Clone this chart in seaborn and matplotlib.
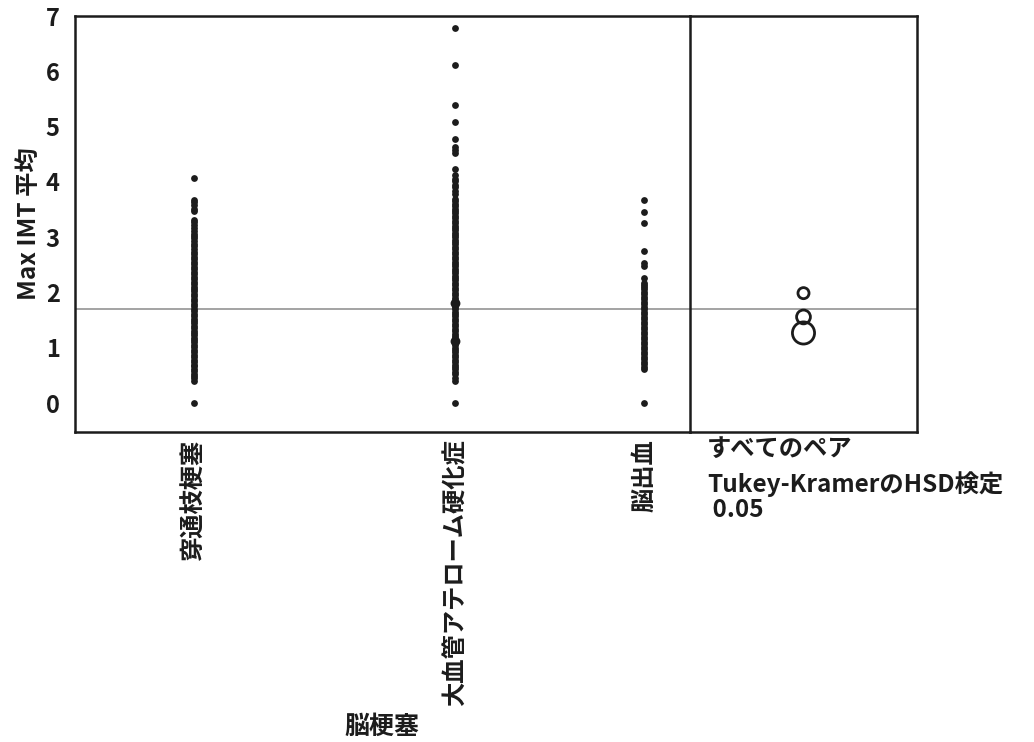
import matplotlib
matplotlib.use("Agg")
import matplotlib.pyplot as plt
import numpy as np
import pandas as pd
import seaborn as sns

sns.set_theme(style="white")
plt.rcParams['font.family'] = ['Noto Sans CJK JP', 'DejaVu Sans']
plt.rcParams['font.weight'] = 'bold'

# --- data -------------------------------------------------------------
categories = ["穿通枝梗塞", "大血管アテローム硬化症", "脳出血"]
group_n = [258, 311, 100]          # group sizes set the width of each column

vals_lacunar = [
    0.00, 0.40, 0.46, 0.50, 0.53, 0.58, 0.62, 0.67, 0.70, 0.75, 0.79, 0.84,
    0.88, 0.92, 0.97, 1.01, 1.05, 1.10, 1.14, 1.18, 1.23, 1.27, 1.31, 1.36,
    1.40, 1.45, 1.49, 1.53, 1.58, 1.62, 1.66, 1.71, 1.75, 1.80, 1.84, 1.89,
    1.93, 1.97, 2.02, 2.06, 2.11, 2.15, 2.20, 2.24, 2.29, 2.33, 2.38, 2.42,
    2.47, 2.51, 2.56, 2.60, 2.65, 2.70, 2.74, 2.79, 2.84, 2.88, 2.93, 2.98,
    3.02, 3.06, 3.12, 3.17, 3.22, 3.27, 3.32, 3.47, 3.52, 3.58, 3.63, 3.68,
    4.08,
]
vals_athero = [
    0.00, 0.40, 0.46, 0.52, 0.57, 0.61, 0.66, 0.70, 0.74, 0.79, 0.83, 0.87,
    0.92, 0.96, 1.00, 1.05, 1.09, 1.13, 1.18, 1.22, 1.26, 1.31, 1.35, 1.39,
    1.44, 1.48, 1.52, 1.57, 1.61, 1.65, 1.70, 1.74, 1.78, 1.83, 1.87, 1.91,
    1.96, 2.00, 2.04, 2.09, 2.13, 2.17, 2.22, 2.26, 2.30, 2.35, 2.39, 2.43,
    2.48, 2.52, 2.56, 2.61, 2.65, 2.69, 2.74, 2.78, 2.82, 2.87, 2.91, 2.95,
    3.00, 3.04, 3.08, 3.13, 3.17, 3.21, 3.26, 3.30, 3.34, 3.39, 3.43, 3.47,
    3.52, 3.56, 3.60, 3.65, 3.70, 3.79, 3.84, 3.90, 3.95, 4.02, 4.06, 4.13,
    4.24, 4.52, 4.57, 4.63, 4.77, 5.08, 5.39, 6.11, 6.78,
]
athero_clusters = [1.12, 1.81]     # heavily tied values
vals_hemorrhage = [
    0.00, 0.62, 0.66, 0.71, 0.75, 0.80, 0.84, 0.89, 0.93, 0.98, 1.02, 1.07,
    1.11, 1.16, 1.20, 1.25, 1.29, 1.34, 1.38, 1.43, 1.47, 1.52, 1.56, 1.61,
    1.65, 1.70, 1.74, 1.79, 1.83, 1.88, 1.92, 1.97, 2.01, 2.06, 2.10, 2.14,
    2.18, 2.27, 2.48, 2.54, 2.76, 3.26, 3.45, 3.68,
]

group_means = [1.56, 1.99, 1.27]   # comparison-circle centres
circle_radii = [0.125, 0.10, 0.20]  # comparison-circle radii (y units)
grand_mean = 1.70

y_ticks = [0, 1, 2, 3, 4, 5, 6, 7]
y_label = "Max IMT 平均"
x_label = "脳梗塞"
panel_title = "すべてのペア"
test_name = "Tukey-KramerのHSD検定"
alpha_text = " 0.05"

# --- layout -----------------------------------------------------------
W, H = 1034, 742
fig = plt.figure(figsize=(W / 100, H / 100), dpi=100)
left, right_main, right_end, top, bottom = 75, 690, 917, 16, 432
ax2 = fig.add_axes([right_main / W, 1 - bottom / H, (right_end - right_main) / W, (bottom - top) / H])
ax = fig.add_axes([left / W, 1 - bottom / H, (right_main - left) / W, (bottom - top) / H],
                  sharey=ax2)
ax2.set_facecolor("none")
ax.set_facecolor("none")

edges = np.concatenate([[0], np.cumsum(group_n)])
centers = (edges[:-1] + edges[1:]) / 2

all_vals = [vals_lacunar, vals_athero, vals_hemorrhage]
df = pd.DataFrame({
    "pos": np.concatenate([[c] * len(v) for c, v in zip(centers, all_vals)]),
    "val": np.concatenate(all_vals),
})
df_cl = pd.DataFrame({"pos": [centers[1]] * len(athero_clusters), "val": athero_clusters})

ink = "#1c1c1c"
ax.axhline(grand_mean, color="#8a8a8a", lw=1.1, zorder=1)
ax2.axhline(grand_mean, color="#8a8a8a", lw=1.1, zorder=1)

sns.scatterplot(data=df, x="pos", y="val", ax=ax, color=ink, s=24, linewidth=0,
                legend=False, zorder=3)
sns.scatterplot(data=df_cl, x="pos", y="val", ax=ax, color=ink, s=50, linewidth=0,
                legend=False, zorder=3)

ax.set_xlim(edges[0], edges[-1])
ax.set_ylim(-0.52, 7.0)
ax.set_yticks(y_ticks)
ax.set_yticks(np.arange(0.5, 7, 1.0), minor=True)
ax.set_xticks(edges[1:-1])
ax.set_xticklabels([])
ax.set_xticks(centers, minor=True)
ax.set_xticklabels(categories, minor=True, rotation=90, fontsize=17.5,
                   fontweight="bold", color=ink)
ax.tick_params(axis="x", which="major", direction="out", length=10, width=1.5, color=ink)
ax.tick_params(axis="x", which="minor", length=0, pad=5)
ax.tick_params(axis="y", which="major", direction="out", length=8, width=1.5,
               color=ink, labelsize=17, labelcolor=ink, pad=3)
ax.tick_params(axis="y", which="minor", direction="out", length=4, width=1.5, color=ink)
for t in ax.get_yticklabels():
    t.set_fontweight("bold")
ax.set_xlabel("")
ax.set_ylabel(y_label, fontsize=17.5, fontweight="bold", color=ink, labelpad=3)
for s in ax.spines.values():
    s.set_visible(True)
    s.set_color(ink)
    s.set_linewidth(1.8)

# comparison circles
ax2.set_xlim(0, 1)
fig.canvas.draw()
sizes = []
for m, r in zip(group_means, circle_radii):
    p0 = ax2.transData.transform((0.5, m))
    p1 = ax2.transData.transform((0.5, m + r))
    r_pt = (p1[1] - p0[1]) * 72 / fig.dpi
    sizes.append((2 * r_pt) ** 2)
ax2.scatter([0.5] * len(group_means), group_means, s=sizes, facecolors="none",
            edgecolors=ink, linewidths=2.0, zorder=3)
ax2.tick_params(left=False, labelleft=False, bottom=False, labelbottom=False)
ax2.set_xlabel("")
ax2.set_ylabel("")
for name, s in ax2.spines.items():
    s.set_visible(name != "left")
    s.set_color(ink)
    s.set_linewidth(1.8)

# annotations
txt = dict(fontsize=17.5, fontweight="bold", color=ink, ha="left", va="center")
fig.text(707 / W, 1 - 449 / H, panel_title, **txt)
fig.text(707 / W, 1 - 484 / H, test_name, **txt)
fig.text(707 / W, 1 - 510 / H, alpha_text, **txt)
fig.text(382 / W, 1 - 727 / H, x_label, fontsize=18, fontweight="bold", color=ink,
         ha="center", va="center")

fig.savefig("out.png", dpi=100, facecolor="white")
